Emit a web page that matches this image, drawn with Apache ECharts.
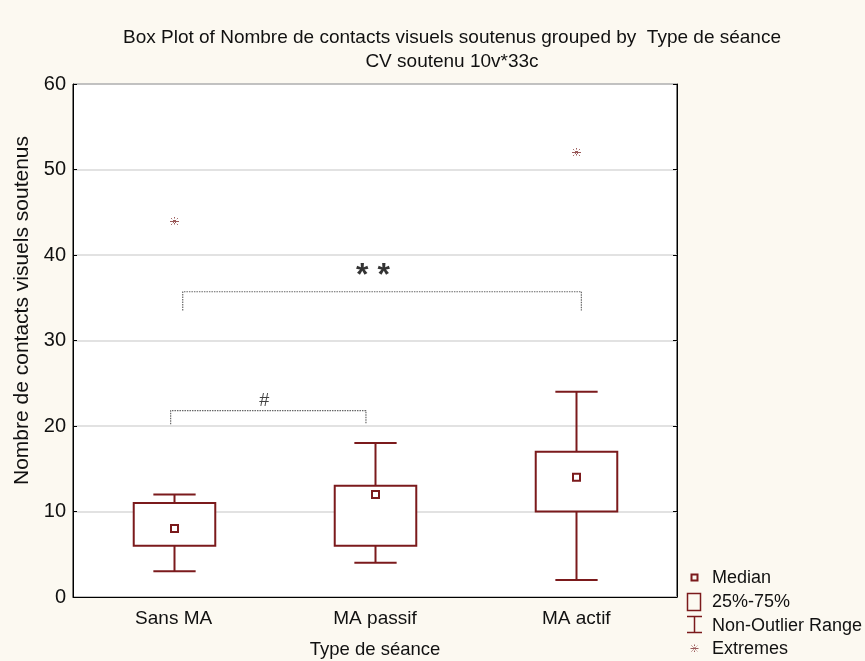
<!DOCTYPE html>
<html><head><meta charset="utf-8">
<script src="https://cdn.jsdelivr.net/npm/echarts@6/dist/echarts.min.js"></script>
<style>html,body{margin:0;padding:0;background:#fcf9f1}#c{width:865px;height:661px}</style>
</head><body><div id="c"></div>
<script>
const categories = ['Sans MA', 'MA passif', 'MA actif'];
const whiskerLow = [3, 4, 2];
const q1 = [6, 6, 10];
const median = [8, 12, 14];
const q3 = [11, 13, 17];
const whiskerHigh = [12, 18, 24];
const extremeCat = [0, 2];
const extremeVal = [44, 52];
const yTicks = [0, 10, 20, 30, 40, 50, 60];
// significance brackets (x in category units, y in data units)
const bracketStarFrom = 0.045, bracketStarTo = 2.025, bracketStarTop = 35.7, bracketStarBottom = 33.5, bracketStarLabel = '* *';
const bracketHashFrom = -0.015, bracketHashTo = 0.955, bracketHashTop = 21.8, bracketHashBottom = 20.2, bracketHashLabel = '#';

const RED = '#7b1a1c';
const FONT = 'Liberation Sans, Arial, sans-serif';

const boxData = categories.map((c, i) => [i, whiskerLow[i], q1[i], median[i], q3[i], whiskerHigh[i]]);
const extremeData = extremeCat.map((c, i) => [c, extremeVal[i]]);

function renderBox(params, api) {
  const x = api.value(0);
  const band = api.size([1, 0])[0];
  const bw = band * 0.405, cw = band * 0.21;
  const pLow = api.coord([x, api.value(1)]);
  const pQ1 = api.coord([x, api.value(2)]);
  const pMed = api.coord([x, api.value(3)]);
  const pQ3 = api.coord([x, api.value(4)]);
  const pHigh = api.coord([x, api.value(5)]);
  const cx = Math.round(pLow[0]) + 0.5;
  const st = { stroke: RED, lineWidth: 2, fill: null };
  return {
    type: 'group',
    children: [
      { type: 'line', shape: { x1: cx, y1: pHigh[1], x2: cx, y2: pQ3[1] }, style: st },
      { type: 'line', shape: { x1: cx, y1: pQ1[1], x2: cx, y2: pLow[1] }, style: st },
      { type: 'line', shape: { x1: cx - cw / 2, y1: pHigh[1], x2: cx + cw / 2, y2: pHigh[1] }, style: st },
      { type: 'line', shape: { x1: cx - cw / 2, y1: pLow[1], x2: cx + cw / 2, y2: pLow[1] }, style: st },
      { type: 'rect', shape: { x: cx - bw / 2, y: pQ3[1], width: bw, height: pQ1[1] - pQ3[1] }, style: { stroke: RED, lineWidth: 2, fill: '#fff' } },
      { type: 'rect', shape: { x: cx - 3.5, y: pMed[1] - 3.5, width: 7, height: 7 }, style: st }
    ]
  };
}

function asterisk(cx, cy, r, color) {
  return {
    type: 'group',
    children: [
      { type: 'line', shape: { x1: cx - r, y1: cy, x2: cx + r, y2: cy }, style: { stroke: color, lineWidth: 1 } },
      { type: 'line', shape: { x1: cx, y1: cy - r, x2: cx, y2: cy + r }, style: { stroke: color, lineWidth: 1, lineDash: [1.5, 1.5] } },
      { type: 'line', shape: { x1: cx - r * 0.75, y1: cy - r * 0.75, x2: cx + r * 0.75, y2: cy + r * 0.75 }, style: { stroke: color, lineWidth: 1, lineDash: [1.5, 1.2] } },
      { type: 'line', shape: { x1: cx - r * 0.75, y1: cy + r * 0.75, x2: cx + r * 0.75, y2: cy - r * 0.75 }, style: { stroke: color, lineWidth: 1, lineDash: [1.5, 1.2] } }
    ]
  };
}

function renderExtreme(params, api) {
  const p = api.coord([api.value(0), api.value(1)]);
  return asterisk(Math.round(p[0]) + 0.5, Math.round(p[1]) + 0.5, 4.5, '#9a5a5a');
}

const bracketStar = [[bracketStarFrom, bracketStarBottom], [bracketStarFrom, bracketStarTop], [bracketStarTo, bracketStarTop], [bracketStarTo, bracketStarBottom]];
const bracketHash = [[bracketHashFrom, bracketHashBottom], [bracketHashFrom, bracketHashTop], [bracketHashTo, bracketHashTop], [bracketHashTo, bracketHashBottom]];

const chart = echarts.init(document.getElementById('c'), null, { renderer: 'canvas' });

const legendTextX = 712;
const LFONT = '18px ' + FONT;
const legendGraphic = [
  { type: 'rect', shape: { x: 691.5, y: 574.5, width: 6, height: 6 }, style: { stroke: RED, lineWidth: 2, fill: null } },
  { type: 'text', x: legendTextX, y: 578, style: { text: 'Median', font: LFONT, fill: '#111', textVerticalAlign: 'middle' } },
  { type: 'rect', shape: { x: 687.5, y: 593.5, width: 13, height: 17 }, style: { stroke: RED, lineWidth: 1.5, fill: null } },
  { type: 'text', x: legendTextX, y: 602, style: { text: '25%-75%', font: LFONT, fill: '#111', textVerticalAlign: 'middle' } },
  { type: 'line', shape: { x1: 687, y1: 616.5, x2: 702, y2: 616.5 }, style: { stroke: RED, lineWidth: 1.5 } },
  { type: 'line', shape: { x1: 694.5, y1: 616.5, x2: 694.5, y2: 632.5 }, style: { stroke: RED, lineWidth: 1.5 } },
  { type: 'line', shape: { x1: 687, y1: 632.5, x2: 702, y2: 632.5 }, style: { stroke: RED, lineWidth: 1.5 } },
  { type: 'text', x: legendTextX, y: 626, style: { text: 'Non-Outlier Range', font: LFONT, fill: '#111', textVerticalAlign: 'middle' } },
  asterisk(694.5, 648.5, 4, '#9a5a5a'),
  { type: 'text', x: legendTextX, y: 649, style: { text: 'Extremes', font: LFONT, fill: '#111', textVerticalAlign: 'middle' } }
];

chart.setOption({
  backgroundColor: '#fcf9f1',
  animation: false,
  textStyle: { fontFamily: FONT },
  title: {
    text: 'Box Plot of Nombre de contacts visuels soutenus grouped by  Type de séance\nCV soutenu 10v*33c',
    left: 447, top: 21, textAlign: 'center',
    textStyle: { fontSize: 19, fontWeight: 'normal', color: '#111', lineHeight: 24, fontFamily: FONT }
  },
  grid: { left: 73, right: 188, top: 84, bottom: 64, outerBoundsMode: 'none', show: true, backgroundColor: '#fff', borderColor: '#000', borderWidth: 1 },
  xAxis: [
    {
      type: 'category', data: categories, boundaryGap: true,
      axisLine: { lineStyle: { color: '#000', width: 1 } },
      axisTick: { inside: true, alignWithLabel: true, length: 4, lineStyle: { color: '#000' } },
      axisLabel: { fontSize: 19, color: '#111', margin: 12 },
      name: 'Type de séance', nameLocation: 'middle', nameGap: 43,
      nameTextStyle: { fontSize: 18.5, color: '#111' }
    },
    { type: 'value', min: -0.5, max: 2.5, show: false }
  ],
  yAxis: [
    {
      type: 'value', min: yTicks[0], max: yTicks[yTicks.length - 1], interval: 10,
      axisLine: { show: true, onZero: false, lineStyle: { color: '#000', width: 1 } },
      axisTick: { show: true, inside: true, length: 4, lineStyle: { color: '#000' } },
      axisLabel: { fontSize: 20, color: '#111', margin: 7 },
      splitLine: { show: true, lineStyle: { color: '#d8d8d8', width: 1.5 } },
      name: 'Nombre de contacts visuels soutenus', nameLocation: 'middle', nameGap: 33, nameRotate: 90,
      nameTextStyle: { fontSize: 21, color: '#111', padding: [0, 0, 0, 60] }
    },
    {
      type: 'value', position: 'right', min: yTicks[0], max: yTicks[yTicks.length - 1], interval: 10,
      axisLine: { show: true, onZero: false, lineStyle: { color: '#000', width: 1 } },
      axisTick: { show: true, inside: true, length: 4, lineStyle: { color: '#000' } },
      axisLabel: { show: false }, splitLine: { show: false }
    }
  ],
  series: [
    { type: 'custom', name: 'box', xAxisIndex: 0, yAxisIndex: 0, renderItem: renderBox, data: boxData, encode: { x: 0, y: [1, 2, 3, 4, 5] }, z: 3 },
    { type: 'custom', name: 'Extremes', xAxisIndex: 0, yAxisIndex: 0, renderItem: renderExtreme, data: extremeData, z: 3 },
    { type: 'line', xAxisIndex: 1, yAxisIndex: 0, data: bracketStar, symbol: 'none', lineStyle: { color: '#666', width: 1.2, type: [1.5, 1] }, z: 2 },
    { type: 'line', xAxisIndex: 1, yAxisIndex: 0, data: bracketHash, symbol: 'none', lineStyle: { color: '#666', width: 1.2, type: [1.5, 1] }, z: 2 },
    {
      type: 'scatter', xAxisIndex: 1, yAxisIndex: 0, symbolSize: 0,
      data: [
        { value: [(bracketStarFrom + bracketStarTo) / 2 - 0.045, bracketStarTop], label: { formatter: bracketStarLabel, position: 'inside', fontSize: 32, fontWeight: 'bold', color: '#000', offset: [0, -16] } },
        { value: [(bracketHashFrom + bracketHashTo) / 2 - 0.02, bracketHashTop], label: { formatter: bracketHashLabel, position: 'top', distance: 3, fontSize: 18, offset: [0, 2] } }
      ],
      label: { show: true, color: '#111' },
      silent: true
    }
  ],
  graphic: legendGraphic
});
</script></body></html>
